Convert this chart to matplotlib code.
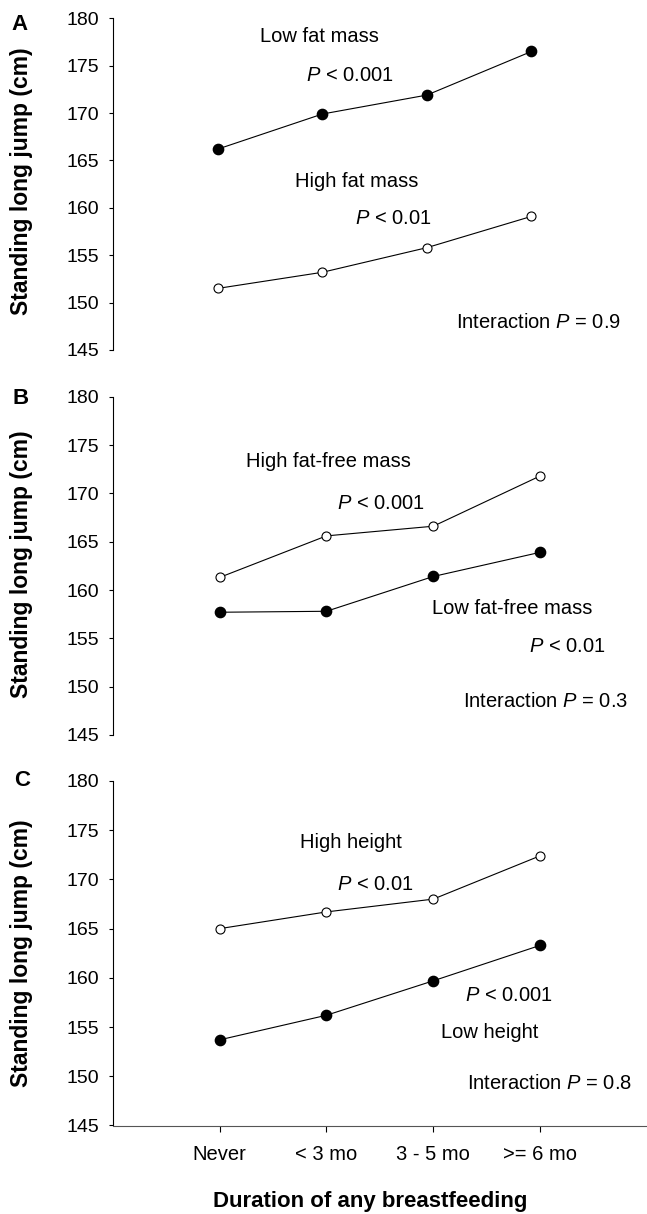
import matplotlib
matplotlib.use('Agg')
import matplotlib.pyplot as plt
import numpy as np

plt.rcParams['font.family'] = ['Liberation Sans', 'DejaVu Sans']
plt.rcParams['mathtext.fontset'] = 'custom'
plt.rcParams['mathtext.rm'] = 'Liberation Sans'
plt.rcParams['mathtext.it'] = 'Liberation Sans:italic'

categories = ['Never', '< 3 mo', '3 - 5 mo', '>= 6 mo']
yticks = [145, 150, 155, 160, 165, 170, 175, 180]

# panel A: fat mass
low_fat = [166.2, 169.9, 171.9, 176.5]
high_fat = [151.5, 153.2, 155.8, 159.1]
# panel B: fat-free mass
high_ffm = [161.3, 165.6, 166.6, 171.8]
low_ffm = [157.7, 157.8, 161.4, 163.9]
# panel C: height
high_height = [165.0, 166.7, 168.0, 172.4]
low_height = [153.7, 156.2, 159.7, 163.3]

# annotations: (text, x, y)
notes_a = [('Low fat mass', 0.97, 178.1), ('$P$ < 0.001', 1.26, 174.0),
           ('High fat mass', 1.33, 162.8), ('$P$ < 0.01', 1.68, 158.9),
           ('Interaction $P$ = 0.9', 3.07, 147.9)]
notes_b = [('High fat-free mass', 1.02, 173.3), ('$P$ < 0.001', 1.51, 169.0),
           ('Low fat-free mass', 2.74, 158.1), ('$P$ < 0.01', 3.25, 154.2),
           ('Interaction $P$ = 0.3', 3.05, 148.45)]
notes_c = [('High height', 1.23, 173.8), ('$P$ < 0.01', 1.46, 169.5),
           ('$P$ < 0.001', 2.71, 158.2), ('Low height', 2.53, 154.4),
           ('Interaction $P$ = 0.8', 3.09, 149.3)]

W, H = 647, 1214
fig = plt.figure(figsize=(W / 100, H / 100), dpi=100)

def px_axes(left, top, right, bottom):
    return fig.add_axes([left / W, 1 - bottom / H, (right - left) / W, (bottom - top) / H])

# letter, axes, filled series, open series, notes, ylabel centre (px), letter centre (px)
panels = [
    ('A', px_axes(113.3, 18.3, 636, 350), low_fat, high_fat, notes_a, 181, (20, 25)),
    ('B', px_axes(112.7, 396.7, 647, 735), low_ffm, high_ffm, notes_b, 564, (21, 399)),
    ('C', px_axes(112.7, 781, 647, 1125.5), low_height, high_height, notes_c, 953, (22, 781)),
]

x = np.arange(len(categories))
for letter, ax, filled, hollow, notes, ylab_y, let_xy in panels:
    ax.plot(x, hollow, color='black', lw=0.8, marker='o', ms=6.5,
            mfc='white', mec='black', mew=0.8)
    ax.plot(x, filled, color='black', lw=0.8, marker='o', ms=7.4,
            mfc='black', mec='black')
    for txt, tx, ty in notes:
        ax.text(tx, ty, txt, ha='center', va='center', fontsize=14.5)
    ax.set_xlim(-1, 4)
    ax.set_ylim(145, 180)
    ax.set_yticks(yticks)
    ax.tick_params(axis='y', direction='out', length=3, width=0.8, pad=7, labelsize=14)
    for s in ['top', 'right']:
        ax.spines[s].set_visible(False)
    ax.spines['left'].set_linewidth(0.8)
    ax.patch.set_alpha(0)
    if letter == 'C':
        ax.set_xticks(x)
        ax.set_xticklabels(categories)
        ax.tick_params(axis='x', direction='out', length=4, width=0.8, pad=10, labelsize=14.5)
        ax.spines['bottom'].set_linewidth(0.8)
        ax.spines['bottom'].set_color('#555555')
        fig.text(370 / W, 1 - 1201 / H, 'Duration of any breastfeeding', fontsize=16,
                 fontweight='bold', ha='center', va='center')
    else:
        ax.spines['bottom'].set_visible(False)
        ax.set_xticks([])
    fig.text(22 / W, 1 - ylab_y / H, 'Standing long jump (cm)', fontsize=16.5,
             fontweight='bold', rotation=90, ha='center', va='center')
    fig.text(let_xy[0] / W, 1 - let_xy[1] / H, letter, fontsize=16, fontweight='bold',
             ha='center', va='center')

plt.savefig('out.png', dpi=100)
